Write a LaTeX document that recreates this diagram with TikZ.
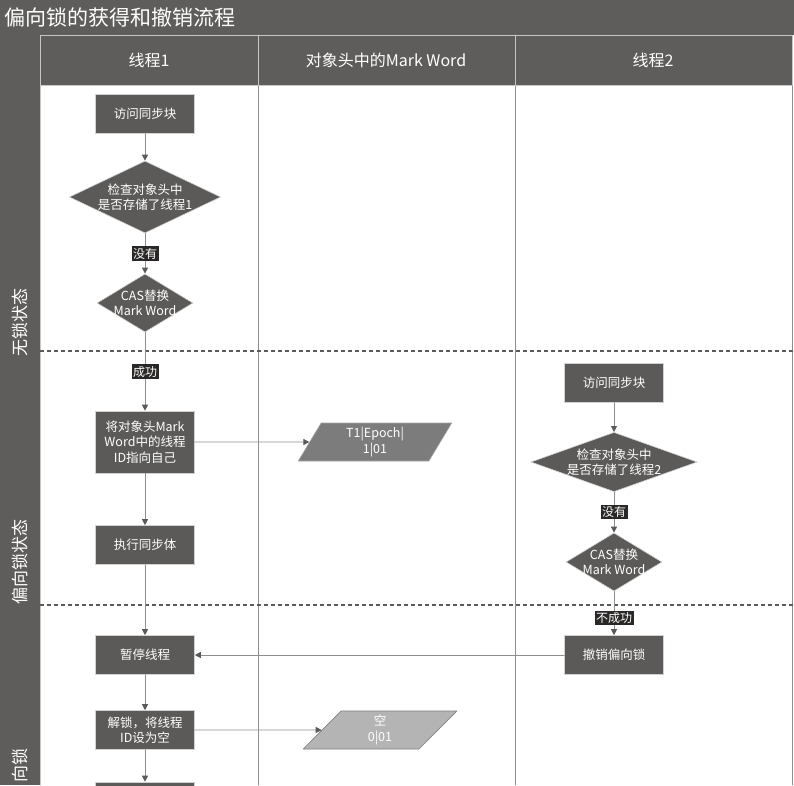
\documentclass[tikz,border=0pt]{standalone}
\usepackage{fontspec}
\setmainfont{Noto Sans CJK SC}
\usetikzlibrary{positioning,arrows.meta,shapes.geometric}

\definecolor{bandgray}{HTML}{5E5D5B}
\definecolor{boxgray}{HTML}{5B5A58}
\definecolor{taggray}{HTML}{2A2826}
\definecolor{linegray}{HTML}{8E8E8E}
\definecolor{tipgray}{HTML}{5A5A5A}
\definecolor{wordgray}{HTML}{7C7C7C}
\definecolor{emptygray}{HTML}{B4B4B4}

\begin{document}
\begin{tikzpicture}[x=1pt,y=-1pt, line cap=round, line join=round,
  stepbox/.style={rectangle, fill=boxgray, draw=gray!35, line width=0.6pt,
    text=white, minimum width=99pt, minimum height=39pt, inner sep=2pt,
    align=center, font=\fontsize{12.5}{15.5}\selectfont},
  decide/.style={diamond, fill=boxgray, draw=gray!35, line width=0.6pt,
    text=white, inner sep=0pt, align=center,
    font=\fontsize{12.5}{15.5}\selectfont},
  wordbox/.style={trapezium, trapezium left angle=68, trapezium right angle=112,
    trapezium stretches=true,
    draw=gray!70, line width=0.6pt, text=white, minimum width=154pt,
    minimum height=38pt, inner sep=1pt, align=center,
    font=\fontsize{12.5}{15.5}\selectfont},
  tag/.style={fill=taggray, text=white, inner sep=1.5pt,
    font=\fontsize{12}{12}\selectfont},
  flow/.style={draw=linegray, line width=0.8pt,
    -{Triangle[length=6pt,width=6pt,color=tipgray]}},
  lanetext/.style={text=white, rotate=90, font=\fontsize{17}{17}\selectfont},
  headtext/.style={text=white, font=\fontsize{16}{16}\selectfont}]
\useasboundingbox (0,0) rectangle (794,785);

% background and bands
\fill[white] (0,0) rectangle (794,785);
\fill[bandgray] (0,0) rectangle (794,35);
\fill[bandgray] (0,35) rectangle (40,785);
\fill[bandgray] (40,35) rectangle (792,85);

% lane lines
\foreach \x in {258,515,792} {
  \draw[linegray, line width=0.8pt] (\x,85) -- (\x,785);
}
\draw[gray!45, line width=0.8pt] (40,35) -- (792,35) -- (792,85) -- (40,85) -- cycle;
\foreach \x in {258,515} {
  \draw[gray!45, line width=0.8pt] (\x,35) -- (\x,85);
}
\draw[gray!45, line width=0.8pt] (40,85) -- (40,785);

% state borders
\foreach \y in {351,605} {
  \draw[tipgray, line width=1.8pt, line cap=butt, dash pattern=on 4pt off 3pt] (40,\y) -- (794,\y);
}

% title, headers, lanes
\node[anchor=west, text=white, font=\fontsize{21}{21}\selectfont] (title) at (1,17) {偏向锁的获得和撤销流程};
\node[headtext] (head1) at (149,60) {线程1};
\node[headtext] (headword) at (386,60) {对象头中的Mark Word};
\node[headtext] (head2) at (653,60) {线程2};
\node[lanetext] (freelane) at (20,322) {无锁状态};
\node[lanetext] (biaslane) at (20,562) {偏向锁状态};
\node[lanetext] (lastlane) at (20,765) {向锁};

% thread 1
\node[stepbox] (visit1) at (145,114) {访问同步块};
\node[decide, shape aspect=2.1] (check1) at (145,197) {检查对象头中\\是否存储了线程1};
\node[decide, shape aspect=1.65, inner xsep=-5pt] (cas1) at (145,303) {CAS替换\\Mark Word};
\node[stepbox, minimum height=62pt] (setid) at (145,442) {将对象头Mark\\Word中的线程\\ID指向自己};
\node[stepbox] (runsync) at (145,545) {执行同步体};
\node[stepbox] (pause) at (145,655) {暂停线程};
\node[stepbox] (unlock) at (145,730) {解锁，将线程\\ID设为空};
\node[stepbox, minimum height=40pt] (next1) at (145,802) {};

% mark word
\node[wordbox, fill=wordgray] (word1) at (375,442) {T1|Epoch|\\1|01};
\node[wordbox, fill=emptygray, draw=gray] (word2) at (380,730) {空\\0|01};

% thread 2
\node[stepbox] (visit2) at (614,383) {访问同步块};
\node[decide, shape aspect=2.8, inner xsep=-2pt] (check2) at (614,462) {检查对象头中\\是否存储了线程2};
\node[decide, shape aspect=1.65, inner xsep=-5pt] (cas2) at (614,562) {CAS替换\\Mark Word};
\node[stepbox] (revoke) at (614,655) {撤销偏向锁};

% connectors
\draw[flow] (visit1) -- (check1);
\draw[flow] (check1) -- node[tag] {没有} (cas1);
\draw[flow] (cas1) -- node[tag, pos=0.5] {成功} (setid);
\draw[flow] (setid) -- (runsync);
\draw[flow] (runsync) -- (pause);
\draw[flow] (pause) -- (unlock);
\draw[flow] (unlock) -- (next1);
\draw[flow] (setid) -- (word1);
\draw[flow] (unlock) -- (word2);
\draw[flow] (visit2) -- (check2);
\draw[flow] (check2) -- node[tag] {没有} (cas2);
\draw[flow] (cas2) -- node[tag, pos=0.6] {不成功} (revoke);
\draw[flow] (revoke) -- (pause);
\end{tikzpicture}
\end{document}
